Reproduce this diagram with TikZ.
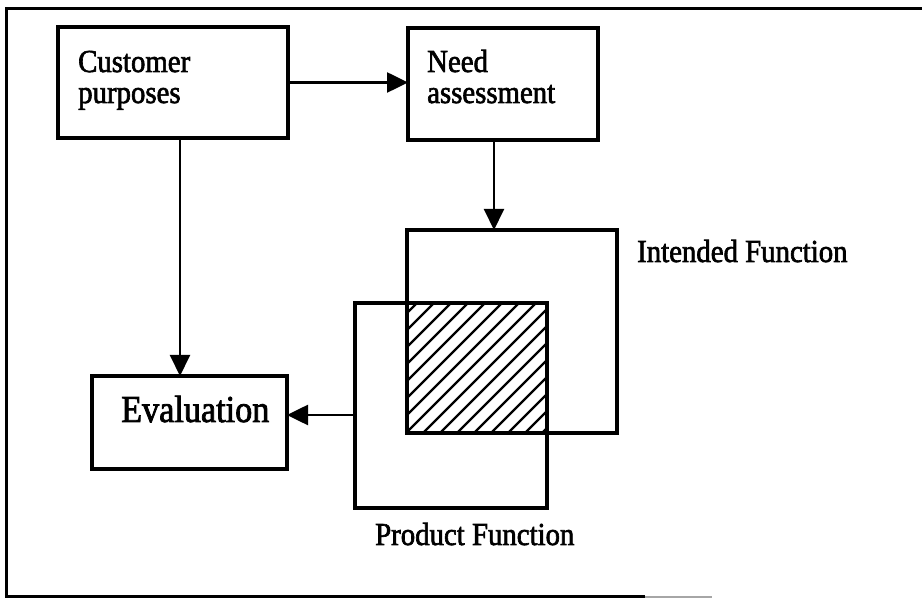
\documentclass[tikz,border=0pt]{standalone}
\usepackage{fontspec}
\setmainfont{Liberation Serif}[FakeStretch=0.9,FakeBold=2]
\usetikzlibrary{arrows.meta}
\begin{document}
\begin{tikzpicture}[x=1pt,y=-1pt]
\tikzset{
  box/.style={draw, line width=3.2pt, inner sep=0pt, outer sep=0pt, anchor=north west},
  lbl/.style={anchor=base west, inner sep=0pt, font=\fontsize{32}{32}\selectfont},
  conn/.style={line width=2.6pt, -{Triangle[length=21pt,width=20pt]}},
  thinconn/.style={conn, line width=2pt},
  hatch/.style={line width=2.2pt},
  frame/.style={line width=3pt},
}
\useasboundingbox (0,0) rectangle (922,601);

% page frame (open on the right)
\draw[frame] (922,9) -- (6,9) -- (6,597) -- (645,597);
\draw[frame, gray!70, line width=2pt] (645,597) -- (712,597);

% hatched overlap of the two function squares
\coordinate (ovA) at (407,303);
\coordinate (ovB) at (547,433);
\begin{scope}
  \clip (ovA) rectangle (ovB);
  \foreach \k in {0,...,16}
    \draw[hatch] (280+\k*17,440) -- ++(150,-150);
\end{scope}

% boxes
\node[box, minimum width=230pt, minimum height=111pt] (cp) at (58,27) {};
\node[box, minimum width=190pt, minimum height=112pt] (na) at (408,28) {};
\node[box, minimum width=195pt, minimum height=93pt]  (ev) at (92,376) {};
\node[box, minimum width=210pt, minimum height=203pt] (if) at (407,230) {};
\node[box, minimum width=192pt, minimum height=205pt] (pf) at (355,303) {};

% texts
\node[lbl] (cp1) at (78,72)  {Customer};
\node[lbl] (cp2) at (78,103) {purposes};
\node[lbl] (na1) at (427,72)  {Need};
\node[lbl] (na2) at (427,103) {assessment};
\node[lbl, font=\fontsize{38}{38}\selectfont] (evt) at (121,422) {Evaluation};
\node[lbl] (ifl) at (637,262) {Intended Function};
\node[lbl] (pfl) at (375,545) {Product Function};

% connectors
\draw[conn] (cp.east) -- (cp.east -| na.west);
\draw[thinconn] ([xshift=7pt]cp.south) -- ([xshift=7pt]cp.south |- ev.north);
\draw[thinconn] ([xshift=-9pt]na.south) -- ([xshift=-9pt]na.south |- if.north);
\draw[conn] ([yshift=-9.5pt]pf.west) -- ([yshift=-9.5pt]pf.west -| ev.east);
\end{tikzpicture}
\end{document}
